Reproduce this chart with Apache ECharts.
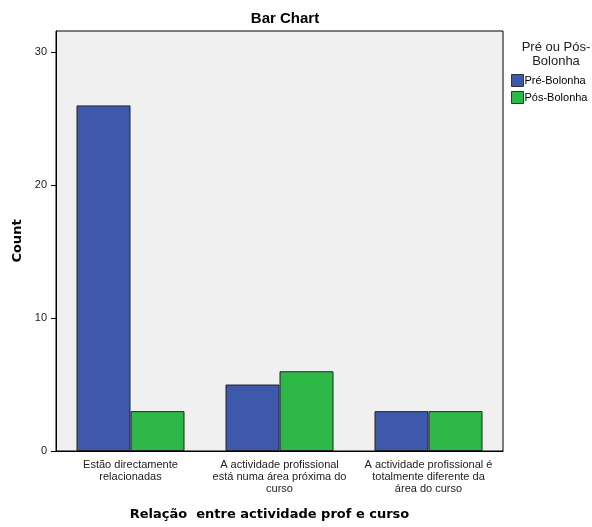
<!DOCTYPE html>
<html>
<head>
<meta charset="utf-8">
<script src="https://cdn.jsdelivr.net/npm/echarts@6/dist/echarts.min.js"></script>
<style>
  html, body { margin: 0; padding: 0; background: #fff; }
  #chart { width: 592px; height: 527px; }
</style>
</head>
<body>
<div id="chart"></div>
<script>
// dados
var categorias = [
  'Estão directamente\nrelacionadas',
  'A actividade profissional\nestá numa área próxima do\ncurso',
  'A actividade profissional é\ntotalmente diferente da\nárea do curso'
];
var preBolonha = [26, 5, 3];
var posBolonha = [3, 6, 3];
var yTicks = [0, 10, 20, 30];

var chart = echarts.init(document.getElementById('chart'));

var fonte = 'Liberation Sans, Arial, sans-serif';
var fonteNome = 'DejaVu Sans, Verdana, sans-serif';

chart.setOption({
  animation: false,
  textStyle: { fontFamily: fonte },
  title: [
    {
      text: 'Bar Chart',
      left: 280, top: 6, textAlign: 'center',
      textStyle: { fontSize: 15, fontWeight: 'bold', color: '#000' }
    },
    {
      text: 'Pré ou Pós-\nBolonha',
      left: 551, top: 35, textAlign: 'center',
      textStyle: { fontSize: 13, fontWeight: 'normal', color: '#222', lineHeight: 14 }
    }
  ],
  legend: {
    orient: 'vertical',
    left: 506, top: 69,
    itemWidth: 12, itemHeight: 12, itemGap: 4,
    icon: 'rect',
    textStyle: { fontSize: 11, color: '#000', padding: [0, 0, 0, -4] },
    itemStyle: { borderColor: '#333', borderWidth: 1 },
    data: ['Pré-Bolonha', 'Pós-Bolonha']
  },
  grid: {
    left: 56, right: 89, top: 31, bottom: 76,
    outerBoundsMode: 'none',
    show: true, backgroundColor: '#F0F0F0',
    borderColor: '#000', borderWidth: 1
  },
  xAxis: {
    type: 'category',
    data: categorias,
    name: 'Relação  entre actividade prof e curso',
    nameLocation: 'middle', nameGap: 57,
    nameTextStyle: { fontSize: 13, fontWeight: 'bold', color: '#000', fontFamily: fonteNome, padding: [0, 20, 0, 0] },
    axisLine: { lineStyle: { color: '#000' } },
    axisTick: { alignWithLabel: true, length: 6, lineStyle: { color: '#000' } },
    axisLabel: { interval: 0, fontSize: 11, color: '#222', lineHeight: 12, margin: 8 }
  },
  yAxis: {
    type: 'value',
    min: 0, max: 31.6, interval: 10,
    name: 'Count',
    nameLocation: 'middle', nameGap: 31,
    nameTextStyle: { fontSize: 13, fontWeight: 'bold', color: '#000', fontFamily: fonteNome },
    axisLine: { show: true, lineStyle: { color: '#000' } },
    axisTick: { show: true, length: 5, lineStyle: { color: '#000' } },
    splitLine: { show: false },
    axisLabel: {
      fontSize: 11, color: '#222', margin: 9,
      showMaxLabel: false,
      formatter: function (v) { return yTicks.indexOf(v) >= 0 ? v : ''; }
    }
  },
  series: [
    {
      name: 'Pré-Bolonha', type: 'bar', data: preBolonha,
      barWidth: 54, barGap: '0%',
      itemStyle: { color: '#3E58AC', borderColor: '#222', borderWidth: 1 }
    },
    {
      name: 'Pós-Bolonha', type: 'bar', data: posBolonha,
      barWidth: 54,
      itemStyle: { color: '#2EB848', borderColor: '#222', borderWidth: 1 }
    }
  ]
});
</script>
</body>
</html>
